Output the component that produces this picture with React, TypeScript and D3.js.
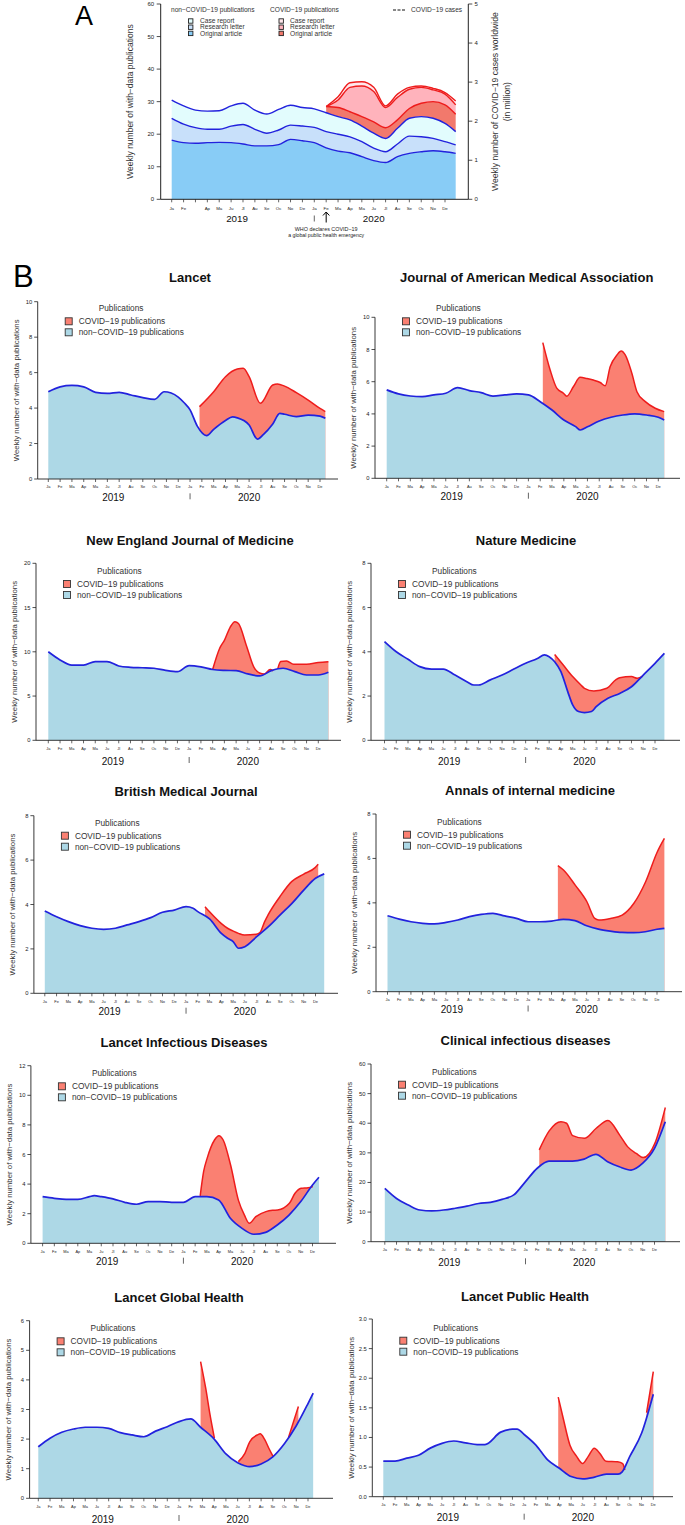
import React from "react";
import * as d3 from "d3";

type Pt = [number, number | null];

const FONT = "'Liberation Sans', Arial, Helvetica, sans-serif";

// ---------- shared axis labels ----------
const MONTH_LABELS = ["Ja", "Fe", "Ma", "Ap", "Ma", "Ju", "Jl", "Au", "Se", "Oc", "No", "De",
  "Ja", "Fe", "Ma", "Ap", "Ma", "Ju", "Jl", "Au", "Se", "Oc", "No", "De"];
const MONTH_LABELS_A = ["Ja", "Fe", "", "Ap", "Ma", "Ju", "Jl", "Au", "Se", "Oc", "No", "De",
  "Ja", "Fe", "Ma", "Ap", "Ma", "Ju", "Jl", "Au", "Se", "Oc", "No", "De"];
const YEAR_LABELS = ["2019", "2020"];
const YEAR_CENTER_MONTH = [5.5, 17];
const WHO_MONTH = 13;

// ---------- Panel A (stacked by publication type) ----------
const aMonths = [0, 1, 2, 3, 4, 5, 6, 7, 8, 9, 10, 11, 12, 13, 14, 15, 16, 17, 18, 19, 20, 21, 22, 23, 23.9];
const aNonOriginal = [18.2, 17.4, 17.2, 17.4, 17.5, 17.4, 17.0, 16.4, 16.4, 16.8, 18.4, 18.0, 17.4, 15.8, 14.8, 14.3, 13.1, 11.9, 11.3, 13.1, 14.1, 14.6, 14.9, 14.6, 14.1];
const aNonLetter = [6.7, 5.7, 4.8, 4.1, 4.0, 5.1, 6.0, 5.1, 3.9, 4.5, 4.4, 4.5, 4.7, 5.0, 5.2, 4.9, 4.6, 3.8, 3.3, 3.9, 5.3, 4.6, 3.8, 3.1, 2.6];
const aNonCase = [5.6, 5.6, 5.4, 5.6, 5.7, 6.2, 6.5, 5.9, 5.9, 6.3, 6.1, 5.7, 5.7, 5.8, 5.4, 5.2, 4.8, 4.6, 4.1, 4.8, 5.5, 6.2, 6.2, 5.6, 4.1];
const aCovidOriginal: (number | null)[] = [null, null, null, null, null, null, null, null, null, null, null, null, null, 1.9, 2.8, 2.5, 2.9, 3.5, 3.3, 2.6, 3.0, 4.1, 5.1, 5.7, 5.3];
const aCovidLetter: (number | null)[] = [null, null, null, null, null, null, null, null, null, null, null, null, null, 0, 2.3, 7.5, 9.4, 9.3, 6.2, 6.9, 5.9, 4.9, 3.6, 3.3, 2.9];
const aCovidCase: (number | null)[] = [null, null, null, null, null, null, null, null, null, null, null, null, null, 0, 1.0, 1.4, 1.3, 1.3, 0.5, 1.0, 0.6, 0.4, 0.5, 0.5, 1.2];
const A_LEFT_TICKS = [0, 10, 20, 30, 40, 50, 60];
const A_RIGHT_TICKS = [0, 1, 2, 3, 4, 5];

// ---------- Panel B (journals): [month, weekly publications] ----------
const lancetNon: Pt[] = [[0, 4.92], [1, 5.2], [2, 5.28], [3, 5.2], [4, 4.89], [5, 4.83], [6, 4.89], [7, 4.74], [8, 4.59], [9, 4.49], [9.8, 4.92], [10.4, 4.85], [11, 4.62], [11.5, 4.3], [12, 3.9], [12.6, 3.0], [13.4, 2.45], [14, 2.8], [15, 3.3], [15.6, 3.5], [16, 3.45], [17, 3.05], [17.7, 2.25], [18.2, 2.5], [19, 3.1], [19.6, 3.7], [20, 3.65], [21, 3.52], [22, 3.6], [23, 3.55], [23.45, 3.42]];
const lancetTotal: Pt[] = [[12.8, 4.08], [14, 4.92], [15, 5.77], [16, 6.2], [16.5, 6.24], [17, 5.77], [17.95, 4.27], [19, 5.3], [19.4, 5.36], [20, 5.24], [21, 4.87], [22, 4.45], [23, 3.98], [23.45, 3.8]];

const jamaNon: Pt[] = [[0, 5.49], [1, 5.24], [2, 5.11], [3, 5.07], [4, 5.18], [5, 5.28], [6, 5.63], [7, 5.45], [8, 5.32], [9, 5.11], [10, 5.18], [11, 5.24], [12, 5.18], [13, 4.76], [14, 4.24], [15, 3.62], [16, 3.21], [16.4, 3.0], [17, 3.2], [18, 3.56], [19, 3.79], [20, 3.93], [21, 4.0], [22, 3.93], [23, 3.79], [23.5, 3.62]];
const jamaTotal: Pt[] = [[13.22, 8.43], [13.84, 6.73], [14.4, 5.6], [14.97, 5.28], [15.25, 5.1], [15.82, 5.7], [16.38, 6.27], [16.95, 6.2], [17.5, 6.1], [18.08, 5.95], [18.5, 5.75], [18.93, 6.94], [19.5, 7.66], [19.86, 7.9], [20.2, 7.66], [20.76, 6.52], [21.19, 5.38], [21.9, 4.76], [22.74, 4.35], [23.5, 4.14]];

const nejmNon: Pt[] = [[0, 10.0], [1, 9.08], [2, 8.5], [3, 8.5], [4, 8.9], [5, 8.9], [6, 8.4], [7, 8.25], [8, 8.2], [9, 8.14], [10, 7.9], [11, 7.76], [12, 8.44], [13, 8.3], [14, 8.0], [15, 7.9], [16, 7.87], [17, 7.5], [18, 7.27], [19, 7.87], [20, 8.14], [21, 7.76], [22, 7.38], [23, 7.38], [23.86, 7.68]];
const nejmTotal: Pt[] = [[14.0, 8.0], [14.6, 10.4], [15.0, 11.3], [15.5, 12.8], [15.9, 13.4], [16.2, 13.2], [16.9, 10.6], [17.5, 8.3], [18.0, 7.6], [18.4, 7.5], [18.9, 8.0], [19.15, 7.85], [19.35, null], [19.55, 8.1], [19.8, 8.9], [20.3, 8.96], [20.9, 8.59], [22.0, 8.59], [23.0, 8.78], [23.86, 8.89]];

const natmedNon: Pt[] = [[0, 4.46], [1, 4.0], [2, 3.66], [3, 3.33], [4, 3.22], [5, 3.22], [6, 2.95], [7, 2.65], [7.6, 2.5], [8, 2.5], [9, 2.73], [10, 2.95], [11, 3.22], [12, 3.48], [13, 3.7], [13.6, 3.86], [14, 3.78], [14.47, 3.55], [15, 3.1], [15.58, 2.2], [16, 1.6], [16.5, 1.3], [17, 1.25], [17.6, 1.3], [18, 1.52], [19, 1.9], [20, 2.12], [21, 2.42], [22, 2.95], [23, 3.48], [23.8, 3.93]];
const natmedTotal: Pt[] = [[14.47, 3.88], [15.2, 3.4], [16.0, 2.88], [16.7, 2.5], [17.0, 2.35], [17.8, 2.23], [18.9, 2.35], [19.66, 2.73], [20.0, 2.83], [21.0, 2.88], [21.5, 2.8], [21.96, 2.9]];

const bmjNon: Pt[] = [[0, 3.71], [1, 3.45], [2, 3.23], [3, 3.05], [4, 2.93], [5, 2.88], [6, 2.93], [7, 3.08], [8, 3.23], [9, 3.41], [10, 3.65], [11, 3.75], [12, 3.9], [12.6, 3.83], [13, 3.68], [14, 3.35], [15, 2.7], [15.53, 2.48], [16, 2.33], [16.46, 2.03], [17, 2.1], [18, 2.55], [19, 3.0], [20, 3.53], [21, 4.05], [22, 4.65], [23, 5.18], [23.74, 5.38]];
const bmjTotal: Pt[] = [[13.61, 3.9], [13.98, 3.68], [14.98, 3.15], [15.53, 2.93], [15.98, 2.81], [16.46, 2.7], [16.97, 2.63], [17.97, 2.66], [18.3, 2.75], [18.68, 3.23], [18.97, 3.53], [19.97, 4.35], [20.97, 5.03], [21.97, 5.36], [22.97, 5.66], [23.23, 5.81]];

const annalsNon: Pt[] = [[0, 3.42], [1, 3.27], [2, 3.15], [3, 3.08], [4, 3.05], [5, 3.12], [6, 3.23], [7, 3.38], [8, 3.48], [9, 3.53], [10, 3.41], [11, 3.3], [12, 3.15], [13, 3.15], [14, 3.18], [15, 3.26], [16, 3.2], [17, 2.97], [18, 2.82], [19, 2.73], [20, 2.67], [21, 2.66], [22, 2.7], [23, 2.81], [23.63, 2.85]];
const annalsTotal: Pt[] = [[14.54, 5.68], [15.02, 5.48], [16.02, 4.8], [17.02, 4.05], [17.69, 3.3], [18.03, 3.23], [19.03, 3.3], [20.03, 3.45], [21.03, 3.98], [22.03, 4.95], [23.03, 6.3], [23.63, 6.9]];

const lidNon: Pt[] = [[0, 3.15], [1, 3.04], [2, 2.97], [3, 2.97], [4, 3.15], [4.4, 3.22], [5, 3.15], [6, 3.0], [7, 2.77], [8, 2.64], [9, 2.82], [10, 2.82], [11, 2.77], [12, 2.77], [13, 3.15], [14, 3.15], [15, 2.93], [16, 1.69], [17, 1.01], [18, 0.61], [19, 0.74], [20, 1.24], [21, 1.91], [22, 2.82], [23, 3.94], [23.55, 4.46]];
const lidTotal: Pt[] = [[13.43, 3.2], [13.72, 4.84], [14.02, 5.74], [14.65, 6.98], [15.02, 7.27], [15.39, 6.98], [16.02, 5.29], [16.69, 2.9], [17.2, 1.9], [17.62, 1.35], [18.17, 1.8], [19.03, 2.14], [19.6, 2.23], [20.03, 2.25], [21.03, 2.7], [21.51, 3.38], [22.03, 3.72], [22.63, 3.76], [23.03, 3.83]];

const cidNon: Pt[] = [[0, 18.0], [1, 14.6], [2, 12.4], [3, 10.7], [4, 10.4], [5, 10.7], [6, 11.3], [7, 12.0], [8, 12.9], [9, 13.3], [10, 14.3], [11, 15.8], [12, 20.3], [13, 24.8], [14, 27.2], [15, 27.2], [16, 27.2], [17, 27.9], [18, 29.5], [19, 27.0], [20, 25.3], [21, 24.2], [22, 26.5], [23, 31.5], [23.92, 40.5]];
const cidTotal: Pt[] = [[13.17, 31.0], [14.02, 37.4], [15.02, 40.5], [15.5, 40.0], [16.02, 35.8], [17.02, 34.9], [18.03, 38.3], [19.03, 40.9], [20.03, 36.0], [20.7, 32.1], [21.44, 29.8], [22.03, 28.4], [23.03, 33.2], [23.92, 45.3]];

const lghNon: Pt[] = [[0, 1.74], [1, 2.03], [2, 2.23], [3, 2.34], [4, 2.4], [5, 2.4], [6, 2.36], [7, 2.22], [8, 2.14], [9, 2.08], [10, 2.27], [11, 2.42], [12, 2.59], [13, 2.68], [13.84, 2.4], [15, 2.0], [16, 1.5], [17, 1.2], [17.6, 1.1], [18, 1.07], [19, 1.16], [20, 1.4], [21, 1.85], [22, 2.45], [23, 3.2], [23.44, 3.55]];
const lghTotal: Pt[] = [[13.84, 4.62], [14.28, 3.71], [14.65, 2.81], [15.02, 2.03], [15.5, null], [17.06, 1.24], [17.62, 1.52], [18.03, 1.91], [18.73, 2.15], [18.92, 2.18], [19.29, 2.0], [19.66, 1.69], [20.03, 1.41], [20.5, null], [21.33, 2.05], [22.18, 3.1]];

const lphNon: Pt[] = [[0, 0.6], [1, 0.6], [2, 0.65], [3, 0.7], [4, 0.82], [5, 0.9], [6, 0.94], [7, 0.91], [8, 0.88], [8.66, 0.88], [10, 1.09], [11, 1.14], [11.4, 1.14], [12, 1.05], [13, 0.87], [14, 0.62], [15, 0.48], [16, 0.34], [17, 0.3], [18, 0.33], [19, 0.38], [20, 0.38], [20.35, 0.42], [21, 0.68], [22, 1.07], [23, 1.73]];
const lphTotal: Pt[] = [[14.9, 1.68], [15.33, 1.32], [15.9, 0.87], [16.47, 0.68], [16.98, 0.56], [17.46, 0.68], [17.97, 0.82], [18.45, 0.73], [18.97, 0.6], [19.96, 0.59], [20.39, 0.56], [20.58, 0.45], [21.5, null], [22.43, 1.42], [23.0, 2.11]];

// ---------- styling ----------
const SALMON = "#FA8072";
const LIGHTBLUE = "#ADD8E6";
const BLUE = "#2222DD";
const RED = "#EE1C1C";
const INK = "#222";

interface Layout { left: number; ja: number; de: number; axisEnd: number; yTop: number; y0: number; titleX: number; titleY: number; yearY: number; }
interface BPanelSpec { title: string; non: Pt[]; total: Pt[]; yMax: number; yStep: number; decimals: number; layout: Layout; }

const B_PANELS: BPanelSpec[] = [
  { title: "Lancet", non: lancetNon, total: lancetTotal, yMax: 10, yStep: 2, decimals: 0,
    layout: { left: 37.7, ja: 48.3, de: 320, axisEnd: 338, yTop: 301.7, y0: 479, titleX: 190, titleY: 277.3, yearY: 497.3 } },
  { title: "Journal of American Medical Association", non: jamaNon, total: jamaTotal, yMax: 10, yStep: 2, decimals: 0,
    layout: { left: 375, ja: 386.7, de: 658.3, axisEnd: 680, yTop: 317.3, y0: 478.3, titleX: 526.7, titleY: 277.3, yearY: 496.7 } },
  { title: "New England Journal of Medicine", non: nejmNon, total: nejmTotal, yMax: 20, yStep: 5, decimals: 0,
    layout: { left: 36, ja: 48.3, de: 318.3, axisEnd: 341, yTop: 563.3, y0: 740.3, titleX: 190, titleY: 540, yearY: 761 } },
  { title: "Nature Medicine", non: natmedNon, total: natmedTotal, yMax: 8, yStep: 2, decimals: 0,
    layout: { left: 371, ja: 384.5, de: 655, axisEnd: 680, yTop: 563.3, y0: 740.3, titleX: 526, titleY: 540, yearY: 761 } },
  { title: "British Medical Journal", non: bmjNon, total: bmjTotal, yMax: 8, yStep: 2, decimals: 0,
    layout: { left: 33.9, ja: 44.8, de: 315.5, axisEnd: 338, yTop: 815.7, y0: 993.3, titleX: 186, titleY: 791.7, yearY: 1011.7 } },
  { title: "Annals of internal medicine", non: annalsNon, total: annalsTotal, yMax: 8, yStep: 2, decimals: 0,
    layout: { left: 376, ja: 387.5, de: 657, axisEnd: 682, yTop: 814, y0: 991.7, titleX: 530, titleY: 790.7, yearY: 1009.5 } },
  { title: "Lancet Infectious Diseases", non: lidNon, total: lidTotal, yMax: 12, yStep: 2, decimals: 0,
    layout: { left: 30.9, ja: 42.6, de: 312.5, axisEnd: 336, yTop: 1065.7, y0: 1243.3, titleX: 184, titleY: 1042.3, yearY: 1261.7 } },
  { title: "Clinical infectious diseases", non: cidNon, total: cidTotal, yMax: 60, yStep: 10, decimals: 0,
    layout: { left: 371, ja: 384.8, de: 654.5, axisEnd: 680, yTop: 1064, y0: 1241.7, titleX: 525.5, titleY: 1040.7, yearY: 1262.3 } },
  { title: "Lancet Global Health", non: lghNon, total: lghTotal, yMax: 6, yStep: 1, decimals: 0,
    layout: { left: 29.6, ja: 38.3, de: 308, axisEnd: 333, yTop: 1320.7, y0: 1498.3, titleX: 179, titleY: 1297.3, yearY: 1519 } },
  { title: "Lancet Public Health", non: lphNon, total: lphTotal, yMax: 3, yStep: 0.5, decimals: 1,
    layout: { left: 372.3, ja: 383.3, de: 653.3, axisEnd: 673, yTop: 1319, y0: 1496.7, titleX: 525, titleY: 1296.7, yearY: 1517.7 } },
];

const isDef = (d: Pt) => d[1] !== null;

function BPanel({ p }: { p: BPanelSpec }) {
  const L = p.layout;
  const x = d3.scaleLinear().domain([0, 23]).range([L.ja, L.de]);
  const y = d3.scaleLinear().domain([0, p.yMax]).range([L.y0, L.yTop]);
  const area = d3.area<Pt>().defined(isDef).x((d) => x(d[0])).y0(y(0)).y1((d) => y(d[1] as number)).curve(d3.curveMonotoneX);
  const line = d3.line<Pt>().defined(isDef).x((d) => x(d[0])).y((d) => y(d[1] as number)).curve(d3.curveMonotoneX);
  const yTicks = d3.range(0, p.yMax + p.yStep / 2, p.yStep);
  const fmt = d3.format(p.decimals ? ".1f" : "d");
  const monthTicks = d3.range(0, 24);
  const midY = (L.yTop + L.y0) / 2;
  return (
    <g>
      <text x={L.titleX} y={L.titleY + 4.6} textAnchor="middle" fontSize={13} fontWeight="bold" fill="#111">{p.title}</text>
      <path d={area(p.total) || ""} fill={SALMON} />
      <path d={area(p.non) || ""} fill={LIGHTBLUE} />
      <path d={line(p.total) || ""} fill="none" stroke={RED} strokeWidth={1.5} strokeLinejoin="round" />
      <path d={line(p.non) || ""} fill="none" stroke={BLUE} strokeWidth={1.7} strokeLinejoin="round" />
      {/* axes */}
      <line x1={L.left} x2={L.left} y1={L.yTop} y2={L.y0} stroke={INK} strokeWidth={0.9} />
      <line x1={L.left} x2={L.axisEnd} y1={L.y0} y2={L.y0} stroke={INK} strokeWidth={0.9} />
      {yTicks.map((t) => (
        <g key={"y" + t}>
          <line x1={L.left - 3.5} x2={L.left} y1={y(t)} y2={y(t)} stroke={INK} strokeWidth={0.8} />
          <text x={L.left - 5.5} y={y(t) + 2} textAnchor="end" fontSize={5.8} fill={INK}>{fmt(t)}</text>
        </g>
      ))}
      {monthTicks.map((m) => (
        <g key={"m" + m}>
          <line x1={x(m)} x2={x(m)} y1={L.y0} y2={L.y0 + 3} stroke={INK} strokeWidth={0.7} />
          <text x={x(m)} y={L.y0 + 9.4} textAnchor="middle" fontSize={3.9} fill={INK}>{MONTH_LABELS[m]}</text>
        </g>
      ))}
      {YEAR_LABELS.map((yl, i) => (
        <text key={yl} x={x(YEAR_CENTER_MONTH[i])} y={L.yearY + 3.6} textAnchor="middle" fontSize={10} fill="#111">{yl}</text>
      ))}
      <line x1={x(12)} x2={x(12)} y1={L.yearY - 4} y2={L.yearY + 2} stroke={INK} strokeWidth={0.7} />
      <text transform={`translate(${L.left - 21.5},${midY}) rotate(-90)`} textAnchor="middle" fontSize={7.8} fill="#333" dy={2.8}>
        Weekly number of with−data publications
      </text>
      {/* legend */}
      <text x={L.left + 61} y={L.titleY + 31 + 3} fontSize={8.3} fill="#333">Publications</text>
      <rect x={L.left + 27.5} y={L.titleY + 44 - 3.5} width={7} height={7} fill={SALMON} stroke="#333" strokeWidth={0.9} />
      <text x={L.left + 41} y={L.titleY + 44 + 3} fontSize={8.3} fill="#333">COVID−19 publications</text>
      <rect x={L.left + 27.5} y={L.titleY + 55 - 3.5} width={7} height={7} fill={LIGHTBLUE} stroke="#333" strokeWidth={0.9} />
      <text x={L.left + 41} y={L.titleY + 55 + 3} fontSize={8.3} fill="#333">non−COVID−19 publications</text>
    </g>
  );
}

const A_KEYS = ["nonOriginal", "nonLetter", "nonCase", "covidOriginal", "covidLetter", "covidCase"];
const A_FILLS: Record<string, string> = {
  nonOriginal: "#88CCF6", nonLetter: "#C8E0FA", nonCase: "#E2FCFD",
  covidOriginal: "#F2796C", covidLetter: "#FFB3BC", covidCase: "#FFE8EC",
};

function PanelA() {
  const left = 160.7, right = 468.3, top = 4, bottom = 199.3;
  const x = d3.scaleLinear().domain([0, 23]).range([171.7, 445]);
  const y = d3.scaleLinear().domain([0, 60]).range([bottom, top]);
  const y2 = d3.scaleLinear().domain([0, 5]).range([bottom, top]);
  const rows = aMonths.map((m, i) => ({
    m,
    nonOriginal: aNonOriginal[i], nonLetter: aNonLetter[i], nonCase: aNonCase[i],
    covidOriginal: aCovidOriginal[i] ?? 0, covidLetter: aCovidLetter[i] ?? 0, covidCase: aCovidCase[i] ?? 0,
    hasCovid: aCovidOriginal[i] !== null,
  }));
  const layers = d3.stack<any>().keys(A_KEYS)(rows);
  const mkArea = (covid: boolean) => d3.area<any>()
    .defined((d) => !covid || d.data.hasCovid)
    .x((d) => x(d.data.m)).y0((d) => y(d[0])).y1((d) => y(d[1])).curve(d3.curveMonotoneX);
  const mkLine = (covid: boolean) => d3.line<any>()
    .defined((d) => !covid || d.data.hasCovid)
    .x((d) => x(d.data.m)).y((d) => y(d[1])).curve(d3.curveMonotoneX);
  const midY = (top + bottom) / 2;
  const legendRows = [
    { label: "Case report", non: "nonCase", covid: "covidCase", yy: 21 },
    { label: "Research letter", non: "nonLetter", covid: "covidLetter", yy: 27.2 },
    { label: "Original article", non: "nonOriginal", covid: "covidOriginal", yy: 33.4 },
  ];
  return (
    <g>
      <text x={75} y={24.5} fontSize={27} fill="#000">A</text>
      {layers.map((ly) => {
        const covid = ly.key.startsWith("covid");
        return <path key={"a" + ly.key} d={mkArea(covid)(ly as any) || ""} fill={A_FILLS[ly.key]} />;
      })}
      {layers.filter((ly) => ly.key.startsWith("covid")).map((ly) => (
        <path key={"l" + ly.key} d={mkLine(true)(ly as any) || ""} fill="none" stroke={RED} strokeWidth={1.4} />
      ))}
      {layers.filter((ly) => !ly.key.startsWith("covid")).map((ly) => (
        <path key={"l" + ly.key} d={mkLine(false)(ly as any) || ""} fill="none" stroke={BLUE} strokeWidth={1.4} />
      ))}
      {/* axes */}
      <line x1={left} x2={left} y1={top} y2={bottom} stroke={INK} strokeWidth={1} />
      <line x1={right} x2={right} y1={top} y2={bottom} stroke={INK} strokeWidth={1} />
      <line x1={left} x2={right} y1={bottom} y2={bottom} stroke={INK} strokeWidth={1} />
      {A_LEFT_TICKS.map((t) => (
        <g key={"al" + t}>
          <line x1={left - 4} x2={left} y1={y(t)} y2={y(t)} stroke={INK} strokeWidth={0.8} />
          <text x={left - 6.5} y={y(t) + 2.1} textAnchor="end" fontSize={6} fill={INK}>{t}</text>
        </g>
      ))}
      {A_RIGHT_TICKS.map((t) => (
        <g key={"ar" + t}>
          <line x1={right} x2={right + 4} y1={y2(t)} y2={y2(t)} stroke={INK} strokeWidth={0.8} />
          <text x={right + 6.3} y={y2(t) + 2.1} textAnchor="start" fontSize={6} fill={INK}>{t}</text>
        </g>
      ))}
      {d3.range(0, 24).map((m) => (
        <g key={"am" + m}>
          <line x1={x(m)} x2={x(m)} y1={bottom} y2={bottom + 3} stroke={INK} strokeWidth={0.7} />
          <text x={x(m)} y={bottom + 10.5} textAnchor="middle" fontSize={4.4} fill={INK}>{MONTH_LABELS_A[m]}</text>
        </g>
      ))}
      {YEAR_LABELS.map((yl, i) => (
        <text key={"ay" + yl} x={x(YEAR_CENTER_MONTH[i])} y={218.3 + 3.5} textAnchor="middle" fontSize={9.8} fill="#111">{yl}</text>
      ))}
      <line x1={x(12)} x2={x(12)} y1={215.5} y2={221.5} stroke={INK} strokeWidth={0.7} />
      <line x1={x(WHO_MONTH)} x2={x(WHO_MONTH)} y1={222.5} y2={212} stroke="#000" strokeWidth={1} />
      <polyline points={`${x(WHO_MONTH) - 3.2},${215.5} ${x(WHO_MONTH)},${212} ${x(WHO_MONTH) + 3.2},${215.5}`} fill="none" stroke="#000" strokeWidth={1} />
      <text x={x(WHO_MONTH)} y={229.3 + 1.9} textAnchor="middle" fontSize={5.4} fill="#222">WHO declares COVID−19</text>
      <text x={x(WHO_MONTH)} y={235.3 + 1.9} textAnchor="middle" fontSize={5.2} fill="#222">a global public health emergency</text>
      <text transform={`translate(129.5,${midY}) rotate(-90)`} textAnchor="middle" fontSize={8.5} fill="#333" dy={3}>
        Weekly number of with−data publications
      </text>
      <text transform={`translate(495,${midY}) rotate(-90)`} textAnchor="middle" fontSize={8.6} fill="#333" dy={3}>
        Weekly number of COVID−19 cases worldwide
      </text>
      <text transform={`translate(507,${midY}) rotate(-90)`} textAnchor="middle" fontSize={8.6} fill="#333" dy={3}>
        (in million)
      </text>
      {/* legend */}
      <text x={171} y={12.3} fontSize={6.6} fill="#333">non−COVID−19 publications</text>
      <text x={270} y={12.3} fontSize={6.6} fill="#333">COVID−19 publications</text>
      {legendRows.map((r) => (
        <g key={"lg" + r.label}>
          <rect x={188.5} y={r.yy - 2.2} width={4.4} height={4.4} fill={A_FILLS[r.non]} stroke="#222" strokeWidth={0.9} />
          <text x={200} y={r.yy + 2.2} fontSize={6.6} fill="#333">{r.label}</text>
          <rect x={279} y={r.yy - 2.2} width={4.4} height={4.4} fill={A_FILLS[r.covid]} stroke="#222" strokeWidth={0.9} />
          <text x={290} y={r.yy + 2.2} fontSize={6.6} fill="#333">{r.label}</text>
        </g>
      ))}
      <line x1={393} x2={405} y1={10} y2={10} stroke="#111" strokeWidth={1} strokeDasharray="3,1.5" />
      <text x={411} y={12.3} fontSize={6.6} fill="#333">COVID−19 cases</text>
    </g>
  );
}

export default function App() {
  return (
    <svg width={685} height={1525} viewBox="0 0 685 1525"
      style={{ position: "absolute", left: 0, top: 0, background: "#fff", display: "block" }}
      fontFamily={FONT}>
      <rect x={0} y={0} width={685} height={1525} fill="#fff" />
      <PanelA />
      <text x={13} y={286.7} fontSize={31} fill="#000">B</text>
      {B_PANELS.map((p) => <BPanel key={p.title} p={p} />)}
    </svg>
  );
}
